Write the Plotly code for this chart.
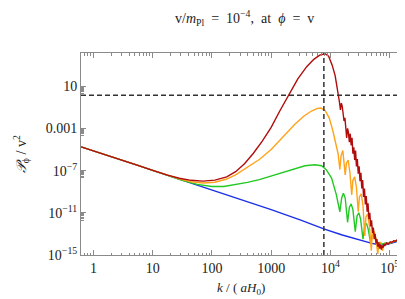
import plotly.graph_objects as go

# ---------------- data (log10 k, log10 P) ----------------
common_logk = [-0.21, 0.0, 0.25, 0.5, 0.75, 1.0, 1.25]
common_logp = [-4.75, -5.12, -5.6, -6.05, -6.5, -6.97, -7.43]

blue_logk = [1.5, 2.0, 2.5, 3.0, 3.5, 3.9, 4.2, 4.5, 4.7, 4.85, 4.95, 5.05, 5.15, 5.25, 5.31]
blue_logp = [-7.9, -8.85, -9.75, -10.7, -11.7, -12.55, -13.1, -13.6, -13.9, -14.05, -14.0, -13.85, -13.7, -13.5, -13.4]

green_logk = [1.5, 1.75, 2.0, 2.2, 2.4, 2.6, 2.8, 3.06, 3.34, 3.57, 3.74, 3.85, 3.93, 4.02, 4.10,
              4.16, 4.19, 4.22, 4.25, 4.29, 4.32, 4.35, 4.38, 4.42, 4.45, 4.48, 4.51, 4.55, 4.58,
              4.61, 4.64, 4.68, 4.71, 4.74, 4.77, 4.81, 4.84, 4.88, 4.93, 5.0, 5.05, 5.1, 5.15,
              5.2, 5.25, 5.31]
green_logp = [-7.92, -8.3, -8.5, -8.5, -8.33, -8.12, -7.85, -7.39, -6.91, -6.54, -6.44, -6.54, -6.91, -7.7, -9.28,
              -10.9, -9.6, -9.15, -9.6, -11.9, -10.5, -10.15, -10.7, -12.8, -11.3, -11.0, -11.6, -13.5, -12.2,
              -12.0, -12.6, -13.9, -13.0, -12.95, -13.5, -14.2, -13.9, -13.95, -13.85, -13.9, -13.75, -13.7, -13.6,
              -13.55, -13.45, -13.38]

orange_logk = [1.45, 1.65, 1.85, 2.05, 2.25, 2.4, 2.6, 2.8, 3.0, 3.2, 3.4, 3.55, 3.68, 3.78, 3.84, 3.91,
               3.98, 4.04, 4.09, 4.13, 4.16, 4.18, 4.21, 4.235, 4.25, 4.27, 4.30, 4.33, 4.36, 4.38, 4.41,
               4.44, 4.47, 4.49, 4.52, 4.55, 4.58, 4.60, 4.63, 4.66, 4.69, 4.71, 4.74, 4.77, 4.80, 4.82,
               4.85, 4.88, 4.90, 4.95, 5.0, 5.05, 5.1, 5.15, 5.2, 5.25, 5.31]
orange_logp = [-7.78, -8.05, -8.18, -8.1, -7.8, -7.4, -6.7, -5.95, -5.0, -3.75, -2.6, -1.85, -1.35, -1.1, -1.07, -1.3,
               -2.0, -3.2, -4.4, -5.4, -6.9, -5.6, -5.1, -6.2, -7.4, -6.3, -6.0, -7.2, -9.3, -7.9, -7.6,
               -8.6, -10.9, -9.5, -9.2, -10.3, -13.2, -11.4, -11.1, -12.3, -14.6, -12.9, -12.8, -13.6, -14.9, -13.8,
               -13.8, -14.6, -14.0, -13.95, -13.85, -13.8, -13.7, -13.6, -13.5, -13.45, -13.35]

red_logk = [1.45, 1.65, 1.85, 2.05, 2.25, 2.4, 2.55, 2.7, 2.85, 3.0, 3.15, 3.3, 3.45, 3.6, 3.72, 3.82, 3.91,
            3.97, 4.03, 4.08, 4.12, 4.15,
            4.170, 4.185, 4.200, 4.215, 4.230, 4.245, 4.260, 4.275, 4.290, 4.305, 4.320, 4.335, 4.350,
            4.365, 4.380, 4.395, 4.410, 4.425, 4.440, 4.455, 4.470, 4.485, 4.500, 4.515, 4.530, 4.545,
            4.560, 4.575, 4.590, 4.605, 4.620, 4.635, 4.650, 4.665, 4.680, 4.695, 4.710, 4.725, 4.740,
            4.755, 4.770, 4.785, 4.800, 4.815, 4.830, 4.845, 4.860, 4.875, 4.890, 4.905, 4.920, 4.950,
            4.980, 5.010, 5.040, 5.070, 5.100, 5.130, 5.160, 5.190, 5.220, 5.250, 5.280, 5.310]
red_logp = [-7.72, -7.92, -8.0, -7.9, -7.6, -7.1, -6.35, -5.35, -4.2, -2.9, -1.3, 0.2, 1.7, 2.85, 3.55, 3.95, 4.08,
            3.85, 3.0, 2.0, 0.8, -0.4,
            -1.25, -0.6, -0.9, -1.6, -2.3, -2.0, -3.2, -3.9, -3.0, -3.4, -4.3, -3.5, -4.6,
            -3.9, -5.4, -4.8, -6.0, -5.1, -6.6, -5.9, -7.3, -6.6, -8.0, -7.2, -8.7, -7.9,
            -9.5, -8.7, -10.2, -9.4, -10.9, -10.1, -11.6, -11.0, -12.3, -11.7, -12.9, -12.4, -13.5,
            -13.0, -13.9, -13.5, -14.2, -13.8, -14.4, -14.0, -14.5, -14.1, -14.3, -13.95, -14.1, -13.85,
            -13.95, -13.75, -13.8, -13.65, -13.7, -13.55, -13.55, -13.45, -13.5, -13.4, -13.4, -13.35]

K_STAR = 10 ** 3.89      # vertical dashed line
P_LEVEL = 10 ** 0.15     # horizontal dashed line

x_tickvals = [1, 10, 100, 1000, 1e4, 1e5]
x_ticktext = ["1", "10", "100", "1000", "10<sup>4</sup>", "10<sup>5</sup>"]
y_tickvals = [10, 1e-3, 1e-7, 1e-11, 1e-15]
y_ticktext = ["10", "0.001", "10<sup>\u22127</sup>", "10<sup>\u221211</sup>", "10<sup>\u221215</sup>"]

X_RANGE = [-0.21, 5.31]
Y_RANGE = [-15, 4.15]

# ---------------- figure ----------------
def series(lk, lp):
    return [10 ** v for v in common_logk + lk], [10 ** v for v in common_logp + lp]

fig = go.Figure()
for lk, lp, col in [(blue_logk, blue_logp, "#1a2fe8"),
                    (green_logk, green_logp, "#22c922"),
                    (orange_logk, orange_logp, "#ffa31a"),
                    (red_logk, red_logp, "#b00c0c")]:
    xs, ys = series(lk, lp)
    fig.add_trace(go.Scatter(x=xs, y=ys, mode="lines", line=dict(color=col, width=1.4),
                             showlegend=False, hoverinfo="skip"))

fig.add_trace(go.Scatter(x=[K_STAR, K_STAR], y=[10 ** Y_RANGE[0], 10 ** Y_RANGE[1]], mode="lines",
                         line=dict(color="#333333", width=1.5, dash="5px,3px"), showlegend=False))
fig.add_trace(go.Scatter(x=[10 ** X_RANGE[0], 10 ** X_RANGE[1]], y=[P_LEVEL, P_LEVEL], mode="lines",
                         line=dict(color="#333333", width=1.5, dash="5px,3px"), showlegend=False))

x_minor = [m * 10 ** n for n in range(-1, 6) for m in range(2, 10)]
y_minor = [m * t / 10 for t in y_tickvals for m in range(2, 10)]

tickfont = dict(family="Liberation Serif", size=14, color="#222222")
common_axis = dict(type="log", showgrid=False, zeroline=False, showline=True, linecolor="#8a8a8a",
                   linewidth=1, mirror="ticks", ticks="inside", ticklen=5, tickcolor="#8a8a8a",
                   tickfont=tickfont, tickmode="array")

fig.update_layout(
    width=405, height=299,
    margin=dict(l=73, r=5, t=45, b=52),
    paper_bgcolor="white", plot_bgcolor="white",
    xaxis=dict(range=X_RANGE, tickvals=x_tickvals, ticktext=x_ticktext,
               minor=dict(tickmode="array", tickvals=x_minor, ticks="inside", ticklen=2.5,
                          tickcolor="#8a8a8a", showgrid=False),
               **common_axis),
    yaxis=dict(range=Y_RANGE, tickvals=y_tickvals, ticktext=y_ticktext,
               minor=dict(tickmode="array", tickvals=y_minor, ticks="inside", ticklen=2.5,
                          tickcolor="#8a8a8a", showgrid=False),
               **common_axis),
    annotations=[
        dict(text="v/<i>m</i><sub>Pl</sub>  =  10<sup>\u22124</sup>,  at  <i>\u03d5</i>  =  v",
             xref="paper", yref="paper", x=0.5, y=1.175, showarrow=False,
             xanchor="center", yanchor="middle",
             font=dict(family="Liberation Serif", size=14, color="#222222")),
        dict(text="<i>k</i> / ( <i>aH</i><sub>0</sub>)",
             xref="paper", yref="paper", x=0.49, y=-0.165, showarrow=False,
             xanchor="center", yanchor="middle",
             font=dict(family="Liberation Serif", size=13, color="#222222")),
        dict(text="<i>\U0001D4AB</i><sub>\u03d5</sub> / v<sup>2</sup>",
             xref="paper", yref="paper", x=-0.183, y=0.5, showarrow=False, textangle=-90,
             xanchor="center", yanchor="middle",
             font=dict(family="Liberation Serif", size=14, color="#222222")),
    ],
)

fig.write_html("out.html")
